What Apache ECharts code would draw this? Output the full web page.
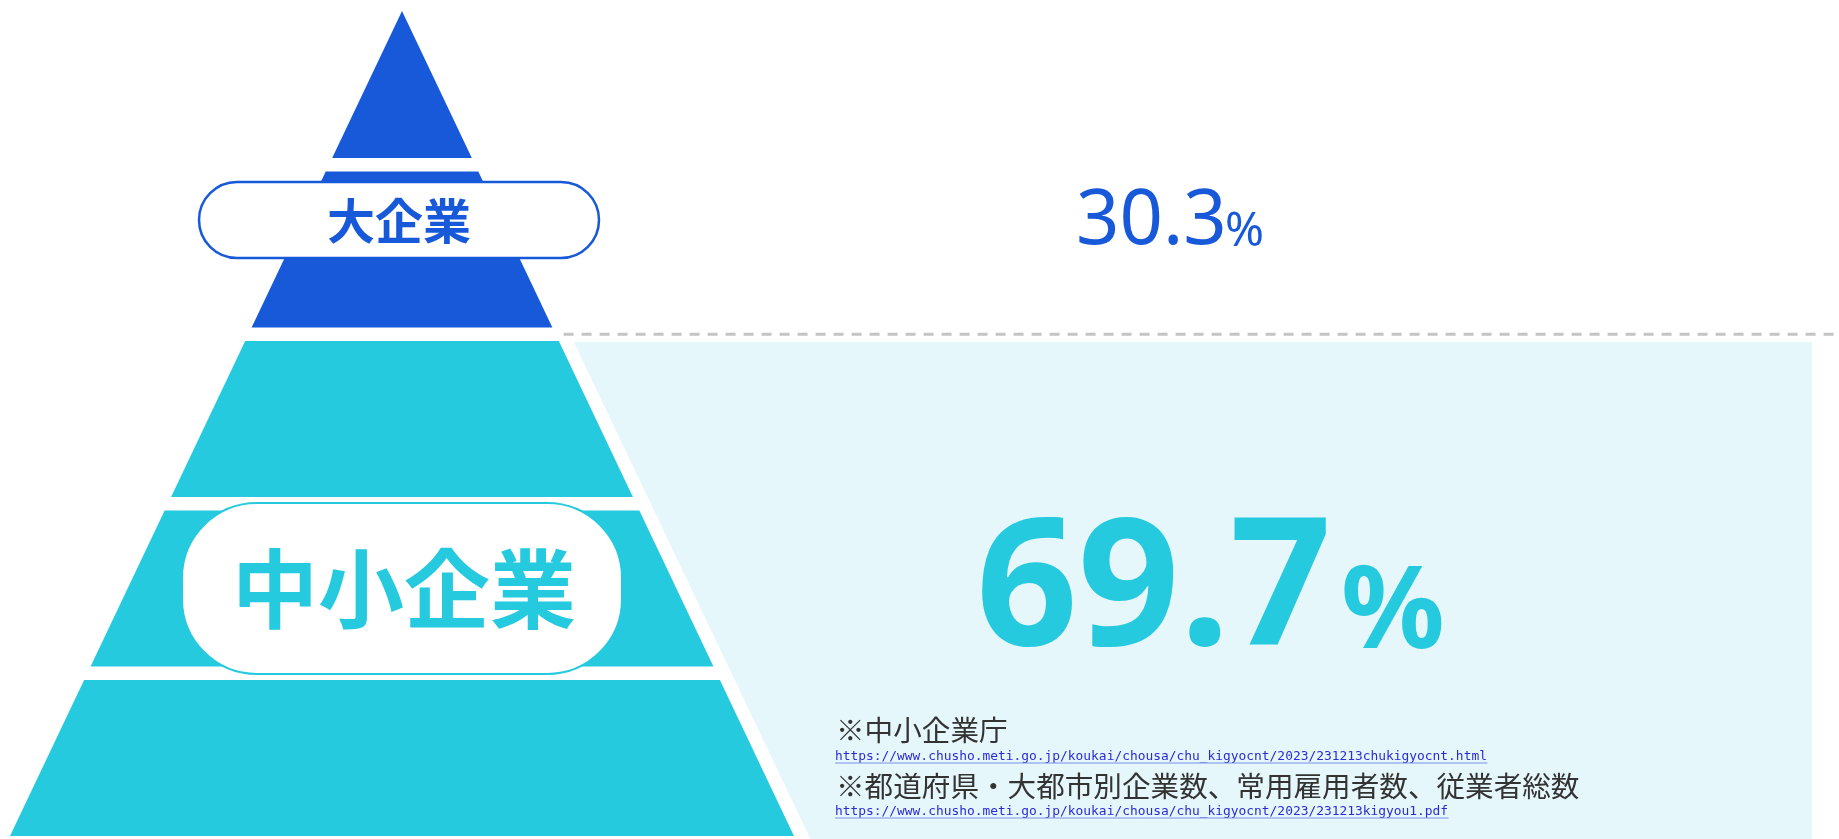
<!DOCTYPE html>
<html><head><meta charset="utf-8">
<script src="https://cdn.jsdelivr.net/npm/echarts@6/dist/echarts.min.js"></script>
<style>html,body{margin:0;padding:0;background:#fff}#c{width:1839px;height:839px}</style>
</head><body><div id="c"></div>
<script>
// ---------- data ----------
const segments = ['大企業', '中小企業'];
const shares = [30.3, 69.7];
const levels = [1, 2, 3, 4, 5];           // pyramid tiers, top to bottom
const levelSegment = [0, 0, 1, 1, 1];     // segment each tier belongs to
const notes = ['※中小企業庁', '※都道府県・大都市別企業数、常用雇用者数、従業者総数'];
const noteLinks = [
  'https://www.chusho.meti.go.jp/koukai/chousa/chu_kigyocnt/2023/231213chukigyocnt.html',
  'https://www.chusho.meti.go.jp/koukai/chousa/chu_kigyocnt/2023/231213kigyou1.pdf'
];

// ---------- styles / layout ----------
const COLORS = ['#1759d9', '#26cade'];
const PANEL = '#e5f7fa';
const GAP = 0.08, APEX = 0.133, NLEV = levels.length;
const Y_MIN = 0.0678, Y_MAX = 5.0177;
const CJK = '"Noto Sans CJK JP", "Noto Sans", sans-serif';
const LAT = '"Noto Sans", "Open Sans", sans-serif';
function hw(v) { return Math.max(0, (v - APEX) / (NLEV - APEX)); }

const chart = echarts.init(document.getElementById('c'), null, {renderer: 'canvas'});
const W = 1839, H = 839;

const pills = [
  {x: 199, y: 182, w: 400, h: 76, r: 38, fs: 48, cx: 399, cy: 221, lw: 2.5},
  {x: 182, y: 503, w: 440, h: 171, r: 75, fs: 86, cx: 404, cy: 589, lw: 2}
];
const pct = [
  {nx: 1076, ny: 222, nfs: 76, nw: 'normal', px: 1225, py: 233, pfs: 47},
  {nx: 976, ny: 594, nfs: 178, nw: 'bold', px: 1341, py: 615, pfs: 115}
];
const noteY = [730, 786], linkY = [757, 812];
const LINK_FS = 12.9;

const graphic = [];
segments.forEach((s, i) => {
  const p = pills[i];
  graphic.push({type: 'rect', z: 10, shape: {x: p.x, y: p.y, width: p.w, height: p.h, r: p.r},
    style: {fill: '#fff', stroke: COLORS[i], lineWidth: p.lw}});
  graphic.push({type: 'text', z: 11, x: p.cx, y: p.cy,
    style: {text: s, font: 'bold ' + p.fs + 'px ' + CJK, fill: COLORS[i], align: 'center', verticalAlign: 'middle'}});
  const q = pct[i];
  graphic.push({type: 'text', z: 11, x: q.nx, y: q.ny,
    style: {text: shares[i].toFixed(1), font: q.nw + ' ' + q.nfs + 'px ' + LAT, fill: COLORS[i], align: 'left', verticalAlign: 'middle'}});
  graphic.push({type: 'text', z: 11, x: q.px, y: q.py,
    style: {text: '%', font: q.nw + ' ' + q.pfs + 'px ' + LAT, fill: COLORS[i], align: 'left', verticalAlign: 'middle'}});
});
notes.forEach((n, i) => {
  graphic.push({type: 'text', z: 11, x: 836, y: noteY[i],
    style: {text: n, font: '28.6px ' + CJK, fill: '#333', align: 'left', verticalAlign: 'middle'}});
  graphic.push({type: 'text', z: 11, x: 835, y: linkY[i],
    style: {text: noteLinks[i], font: LINK_FS + 'px "DejaVu Sans Mono", monospace', fill: '#2a2ad8', align: 'left', verticalAlign: 'middle'}});
  const lw = noteLinks[i].length * LINK_FS * 0.6021;
  graphic.push({type: 'line', z: 11, shape: {x1: 835, y1: linkY[i] + 6, x2: 835 + lw, y2: linkY[i] + 6},
    style: {stroke: '#7f8fe6', lineWidth: 1}});
});

chart.setOption({
  animation: false,
  grid: {left: 10, width: 784, top: 0, bottom: 0},
  xAxis: {type: 'value', min: -1, max: 1, show: false},
  yAxis: {type: 'value', min: Y_MIN, max: Y_MAX, inverse: true, show: false},
  series: [
    { // background panel + divider per segment
      type: 'custom', z: 1, clip: false,
      data: segments.map((s, i) => [i]),
      renderItem(params, api) {
        const s = api.value(0);
        const first = levelSegment.indexOf(s);
        if (first <= 0) return null;
        const children = [];
        const t = first + GAP;
        const p1 = api.coord([hw(t), t]);
        const p2 = api.coord([hw(NLEV), NLEV]);
        const k = (p2[0] - p1[0]) / (p2[1] - p1[1]);
        const off = 15;
        const xb = p1[0] + k * (H - p1[1]);
        children.push({type: 'polygon', shape: {points: [
          [p1[0] + off, p1[1] + 1], [W - 27, p1[1] + 1], [W - 27, H], [xb + off, H]]},
          style: {fill: PANEL}});
        const vm = first + GAP / 2;
        const pm = api.coord([hw(vm), vm]);
        children.push({type: 'line', shape: {x1: pm[0] + 8, y1: pm[1], x2: W, y2: pm[1]},
          style: {stroke: '#c4c4c4', lineWidth: 3, lineDash: [10, 8]}});
        return {type: 'group', children};
      }
    },
    { // pyramid tiers
      type: 'custom', z: 2, clip: false,
      data: levels.map((l, i) => [i, levelSegment[i]]),
      renderItem(params, api) {
        const i = api.value(0), seg = api.value(1);
        const t = Math.max(i + GAP, APEX), b = i + 1;
        const pts = [[-hw(t), t], [hw(t), t], [hw(b), b], [-hw(b), b]].map(p => api.coord(p));
        return {type: 'polygon', shape: {points: pts}, style: {fill: COLORS[seg]}};
      }
    }
  ],
  graphic: graphic
});
</script></body></html>
